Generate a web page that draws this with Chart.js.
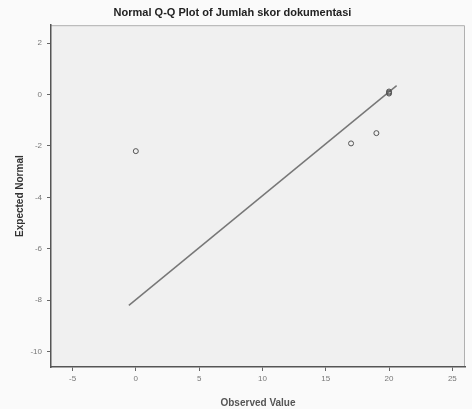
<!DOCTYPE html>
<html>
<head>
<meta charset="utf-8">
<script src="https://cdn.jsdelivr.net/npm/chart.js"></script>
<style>
  html, body { margin: 0; padding: 0; background: #fafafa; }
  #wrap { width: 472px; height: 409px; }
</style>
</head>
<body>
<div id="wrap"><canvas id="qq" width="472" height="409"></canvas></div>
<script>
// observed values and their expected normal values
const observed = [0, 17, 19, 20, 20, 20];
const expected = [-2.2, -1.9, -1.5, 0.04, 0.08, 0.12];
// reference line end points
const lineX = [-0.55, 20.6];
const lineY = [-8.2, 0.35];
const xTicks = [-5, 0, 5, 10, 15, 20, 25];
const yTicks = [2, 0, -2, -4, -6, -8, -10];

const plotBg = {
    id: 'plotBg',
    beforeDraw(chart) {
        const { ctx, chartArea: a } = chart;
        ctx.save();
        ctx.fillStyle = '#f0f0f0';
        ctx.fillRect(a.left, a.top, a.right - a.left, a.bottom - a.top);
        ctx.strokeStyle = '#b0b0b0';
        ctx.lineWidth = 1;
        ctx.beginPath();
        ctx.moveTo(a.left, a.top + 0.5);
        ctx.lineTo(a.right - 0.5, a.top + 0.5);
        ctx.lineTo(a.right - 0.5, a.bottom);
        ctx.stroke();
        ctx.restore();
    }
};

new Chart(document.getElementById('qq'), {
    type: 'scatter',
    data: {
        datasets: [
            {
                data: observed.map((v, i) => ({ x: v, y: expected[i] })),
                pointStyle: 'circle',
                pointRadius: 2.5,
                backgroundColor: 'rgba(0,0,0,0)',
                borderColor: '#555',
                borderWidth: 1
            },
            {
                data: lineX.map((v, i) => ({ x: v, y: lineY[i] })),
                showLine: true,
                pointRadius: 0,
                borderColor: '#777',
                borderWidth: 1.5
            }
        ]
    },
    options: {
        responsive: false,
        animation: false,
        layout: { padding: { left: 0, right: 7, top: 0, bottom: 0 } },
        plugins: {
            legend: { display: false },
            tooltip: { enabled: false },
            title: {
                display: true,
                text: 'Normal Q-Q Plot of Jumlah skor dokumentasi',
                color: '#222',
                font: { family: 'Arial, Liberation Sans, sans-serif', size: 11, weight: 'bold' },
                padding: { top: 6, bottom: 6 }
            }
        },
        scales: {
            x: {
                type: 'linear',
                min: -6.7,
                max: 26,
                afterBuildTicks: s => { s.ticks = xTicks.map(v => ({ value: v })); },
                afterFit: s => { s.height = 42; },
                grid: { drawOnChartArea: false, drawTicks: true, tickLength: 4, color: '#666' },
                border: { color: '#555', width: 1.5 },
                ticks: { color: '#777', font: { family: 'Arial, Liberation Sans, sans-serif', size: 8 }, padding: 3 },
                title: {
                    display: true,
                    text: 'Observed Value',
                    color: '#555',
                    font: { family: 'Arial, Liberation Sans, sans-serif', size: 10, weight: 'bold' },
                    padding: { top: 2, bottom: 0 }
                }
            },
            y: {
                type: 'linear',
                min: -10.6,
                max: 2.7,
                afterBuildTicks: s => { s.ticks = yTicks.map(v => ({ value: v })); },
                afterFit: s => { s.width = 51; },
                grid: { drawOnChartArea: false, drawTicks: true, tickLength: 4, color: '#666' },
                border: { color: '#555', width: 1.5 },
                ticks: { color: '#777', font: { family: 'Arial, Liberation Sans, sans-serif', size: 8 }, padding: 5 },
                title: {
                    display: true,
                    text: 'Expected Normal',
                    color: '#333',
                    font: { family: 'Arial, Liberation Sans, sans-serif', size: 10, weight: 'bold' },
                    padding: { top: 14, bottom: 4 }
                }
            }
        }
    },
    plugins: [plotBg]
});
</script>
</body>
</html>
